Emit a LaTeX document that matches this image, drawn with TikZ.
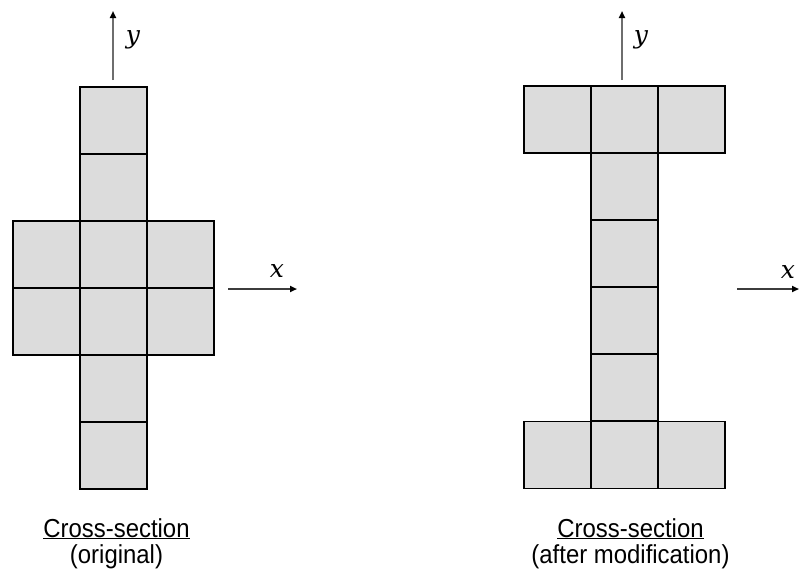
\documentclass[tikz,border=0pt]{standalone}
\usepackage{fontspec}
\setmainfont{Liberation Sans}
\newfontfamily\capfont[FakeStretch=0.92]{Liberation Sans}
\newfontfamily\lblfont{DejaVu Serif}
\usetikzlibrary{arrows.meta}
\definecolor{cellfill}{RGB}{220,220,220}
\definecolor{axisgray}{RGB}{110,110,110}
\definecolor{axisdark}{RGB}{60,60,60}
\begin{document}
\begin{tikzpicture}[x=1pt,y=-1pt,
  cell/.style={draw=black,line width=1.8pt,fill=cellfill,minimum width=67pt,minimum height=67pt,inner sep=0pt,outer sep=0pt},
  axisline/.style={line width=1.8pt,-{Triangle[length=7pt,width=6pt,color=black]}},
  axlabel/.style={font=\lblfont\itshape\fontsize{25}{25}\selectfont,anchor=base,inner sep=0pt},
  caption/.style={font=\capfont\fontsize{26}{27}\selectfont,anchor=base,inner sep=0pt}]
\useasboundingbox (0,0) rectangle (799,568);
% left cross-section
\node[cell] (l1) at (113.5,120.5) {};
\node[cell] (l2) at (113.5,187.5) {};
\node[cell] (l3) at (113.5,254.5) {};
\node[cell] (l3a) at (46.5,254.5) {};
\node[cell] (l3b) at (180.5,254.5) {};
\node[cell] (l4) at (113.5,321.5) {};
\node[cell] (l4a) at (46.5,321.5) {};
\node[cell] (l4b) at (180.5,321.5) {};
\node[cell] (l5) at (113.5,388.5) {};
\node[cell] (l6) at (113.5,455.5) {};
% right cross-section
\node[cell] (r1a) at (557.5,119.5) {};
\node[cell] (r1) at (624.5,119.5) {};
\node[cell] (r1b) at (691.5,119.5) {};
\node[cell] (r2) at (624.5,186.5) {};
\node[cell] (r3) at (624.5,253.5) {};
\node[cell] (r4) at (624.5,320.5) {};
\node[cell] (r5) at (624.5,387.5) {};
\node[cell] (r6a) at (557.5,455) {};
\node[cell] (r6) at (624.5,455) {};
\node[cell] (r6b) at (691.5,455) {};
% axes
\coordinate (lyS) at (113,80);
\coordinate (lyE) at (113,11);
\coordinate (lxS) at (228,289);
\coordinate (lxE) at (297,289);
\coordinate (ryS) at (622,80);
\coordinate (ryE) at (622,11);
\coordinate (rxS) at (737,289);
\coordinate (rxE) at (799,289);
\draw[axisline,axisgray] (lyS) -- (lyE);
\draw[axisline,axisdark] (lxS) -- (lxE);
\draw[axisline,axisgray] (ryS) -- (ryE);
\draw[axisline,axisdark] (rxS) -- (rxE);
\node[axlabel] (ly) at (133,43) {y};
\node[axlabel] (lx) at (277,277) {x};
\node[axlabel] (ry) at (641,43) {y};
\node[axlabel] (rx) at (788,278) {x};
% captions
\node[caption] (lc1) at (116.5,537) {\underline{Cross-section}};
\node[caption] (lc2) at (116.5,563) {(original)};
\node[caption] (rc1) at (630.5,537) {\underline{Cross-section}};
\node[caption] (rc2) at (630.5,563) {(after modification)};
\end{tikzpicture}
\end{document}
